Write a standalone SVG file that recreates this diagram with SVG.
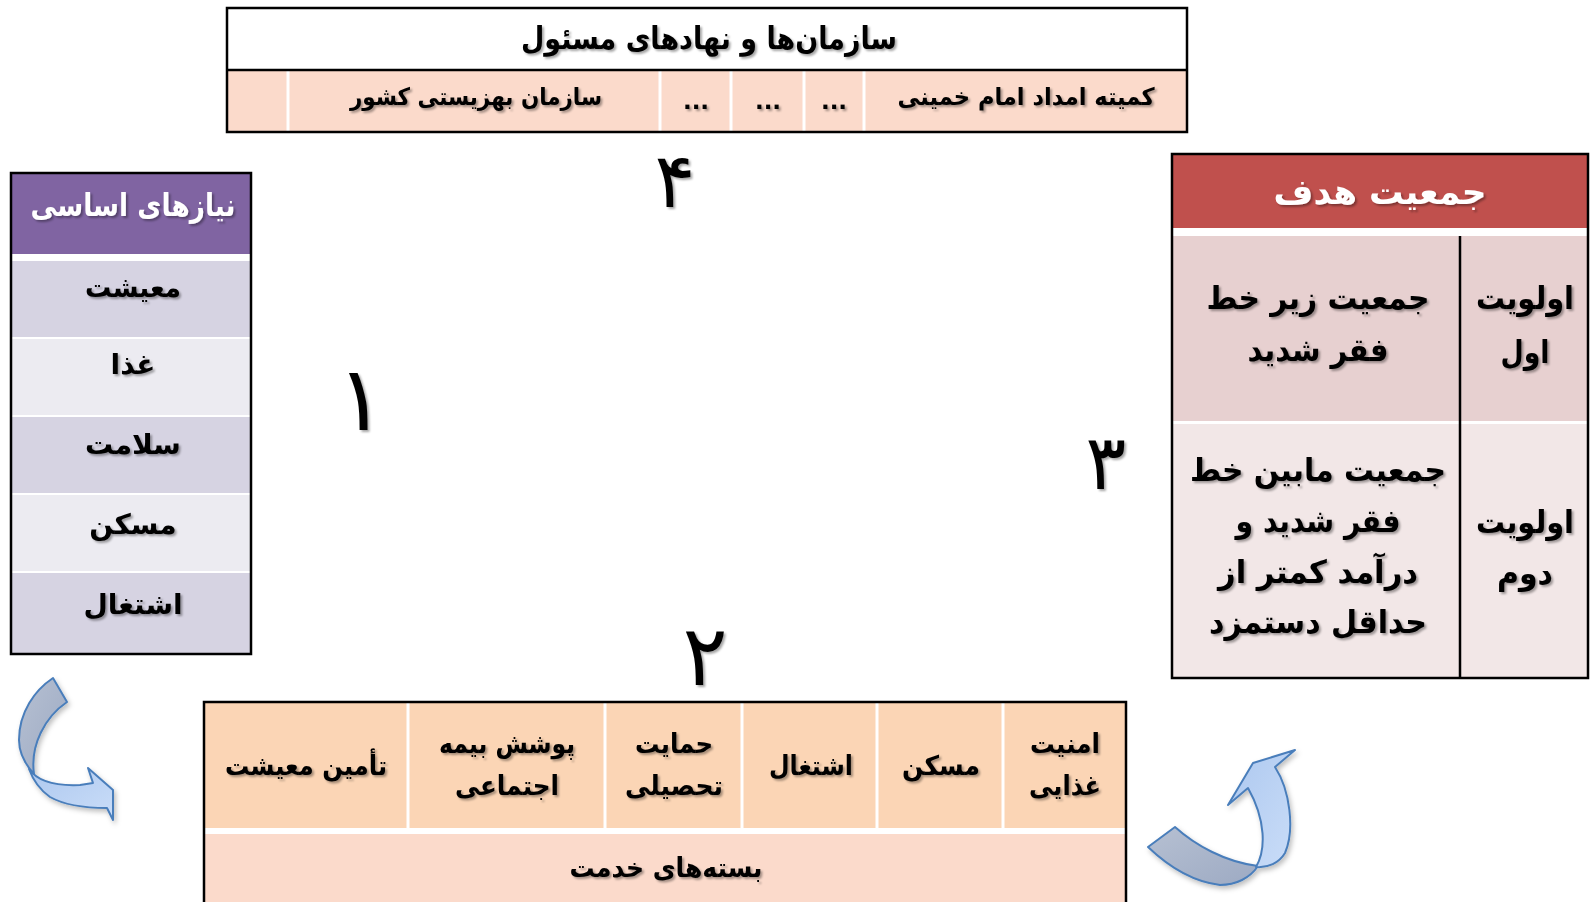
<svg xmlns="http://www.w3.org/2000/svg" width="1591" height="902" viewBox="0 0 1591 902">
<style>
  text { font-family: "DejaVu Sans", "Noto Sans", sans-serif; text-anchor: middle; dominant-baseline: central; }
  .b { font-weight: bold; }
  .t { fill: #000; filter: url(#sh); }
  .w { fill: #fff; filter: url(#sh); }
  .frame { fill: none; stroke: #000; stroke-width: 2.5; }
  .sep { stroke: #fff; stroke-width: 3; }
  .num { fill: #000; filter: url(#sh); }
  .arr { stroke: #4A7EBB; stroke-width: 2; stroke-linejoin: round; }
</style>
<defs>
  <filter id="sh" x="-20%" y="-30%" width="140%" height="160%">
    <feDropShadow dx="2" dy="2" stdDeviation="1.2" flood-color="#000" flood-opacity="0.35"/>
  </filter>
  <filter id="ash" x="-20%" y="-20%" width="140%" height="140%">
    <feDropShadow dx="2" dy="3" stdDeviation="2.5" flood-color="#000" flood-opacity="0.25"/>
  </filter>
  <linearGradient id="grey" x1="0" y1="0" x2="1" y2="1">
    <stop offset="0" stop-color="#B6C0D2"/>
    <stop offset="1" stop-color="#9DAAC3"/>
  </linearGradient>
  <linearGradient id="blue" x1="0" y1="0" x2="1" y2="1">
    <stop offset="0" stop-color="#ADC8EF"/>
    <stop offset="1" stop-color="#CADDF8"/>
  </linearGradient>
</defs>
<rect width="1591" height="902" fill="#fff"/>

<!-- Top table -->
<g id="orgs">
  <rect x="227" y="8" width="960" height="62" fill="#fff"/>
  <rect x="227" y="70" width="960" height="62" fill="#FBDACB"/>
  <line class="sep" x1="288" y1="70" x2="288" y2="132"/>
  <line class="sep" x1="660" y1="70" x2="660" y2="132"/>
  <line class="sep" x1="731" y1="70" x2="731" y2="132"/>
  <line class="sep" x1="804" y1="70" x2="804" y2="132"/>
  <line class="sep" x1="864" y1="70" x2="864" y2="132"/>
  <line x1="227" y1="70" x2="1187" y2="70" stroke="#000" stroke-width="2.5"/>
  <rect class="frame" x="227" y="8" width="960" height="124"/>
  <text class="b t" x="709" y="38" font-size="31" textLength="376" lengthAdjust="spacingAndGlyphs">سازمان‌ها و نهادهای مسئول</text>
  <text class="b t" x="1026" y="97" font-size="24" textLength="257" lengthAdjust="spacingAndGlyphs">کمیته امداد امام خمینی</text>
  <text class="b t" x="834" y="101" font-size="23">...</text>
  <text class="b t" x="768" y="101" font-size="23">...</text>
  <text class="b t" x="696" y="101" font-size="23">...</text>
  <text class="b t" x="476" y="97" font-size="24" textLength="252" lengthAdjust="spacingAndGlyphs">سازمان بهزیستی کشور</text>
</g>

<!-- Left table: basic needs -->
<g id="needs">
  <rect x="11" y="173" width="240" height="81" fill="#8064A2"/>
  <rect x="11" y="254" width="240" height="7" fill="#fff"/>
  <rect x="11" y="261" width="240" height="76" fill="#D6D3E2"/>
  <rect x="11" y="339" width="240" height="76" fill="#ECEBF1"/>
  <rect x="11" y="417" width="240" height="76" fill="#D6D3E2"/>
  <rect x="11" y="495" width="240" height="76" fill="#ECEBF1"/>
  <rect x="11" y="573" width="240" height="81" fill="#D6D3E2"/>
  <rect class="frame" x="11" y="173" width="240" height="481"/>
  <text class="b w" x="133" y="205" font-size="31" textLength="205" lengthAdjust="spacingAndGlyphs">نیازهای اساسی</text>
  <text class="b t" x="133" y="287" font-size="28" textLength="96" lengthAdjust="spacingAndGlyphs">معیشت</text>
  <text class="b t" x="133" y="364" font-size="28">غذا</text>
  <text class="b t" x="133" y="444" font-size="28">سلامت</text>
  <text class="b t" x="133" y="524" font-size="28">مسکن</text>
  <text class="b t" x="133" y="604" font-size="28">اشتغال</text>
</g>

<!-- Right table: target population -->
<g id="target">
  <rect x="1172" y="154" width="416" height="74" fill="#C0504D"/>
  <rect x="1172" y="228" width="416" height="8" fill="#fff"/>
  <rect x="1172" y="236" width="416" height="185" fill="#E7D0D0"/>
  <rect x="1172" y="424" width="416" height="254" fill="#F2E7E7"/>
  <line x1="1460" y1="236" x2="1460" y2="678" stroke="#000" stroke-width="2.5"/>
  <rect class="frame" x="1172" y="154" width="416" height="524"/>
  <text class="b w" x="1380" y="192" font-size="35" textLength="213" lengthAdjust="spacingAndGlyphs">جمعیت هدف</text>
  <text class="b t" x="1525" y="298" font-size="32" textLength="98" lengthAdjust="spacingAndGlyphs">اولویت</text>
  <text class="b t" x="1525" y="352" font-size="32" textLength="49" lengthAdjust="spacingAndGlyphs">اول</text>
  <text class="b t" x="1318" y="298" font-size="32" textLength="223" lengthAdjust="spacingAndGlyphs">جمعیت زیر خط</text>
  <text class="b t" x="1318" y="350" font-size="32" textLength="141" lengthAdjust="spacingAndGlyphs">فقر شدید</text>
  <text class="b t" x="1525" y="522" font-size="32" textLength="98" lengthAdjust="spacingAndGlyphs">اولویت</text>
  <text class="b t" x="1525" y="573" font-size="32" textLength="56" lengthAdjust="spacingAndGlyphs">دوم</text>
  <text class="b t" x="1318" y="470" font-size="32" textLength="256" lengthAdjust="spacingAndGlyphs">جمعیت مابین خط</text>
  <text class="b t" x="1318" y="521" font-size="32" textLength="165" lengthAdjust="spacingAndGlyphs">فقر شدید و</text>
  <text class="b t" x="1318" y="572" font-size="32" textLength="200" lengthAdjust="spacingAndGlyphs">درآمد کمتر از</text>
  <text class="b t" x="1318" y="622" font-size="32" textLength="218" lengthAdjust="spacingAndGlyphs">حداقل دستمزد</text>
</g>

<!-- Bottom table: service packages -->
<g id="services">
  <rect x="204" y="702" width="922" height="126" fill="#FBD5B5"/>
  <rect x="204" y="828" width="922" height="6" fill="#fff"/>
  <rect x="204" y="834" width="922" height="70" fill="#FBDACB"/>
  <line class="sep" x1="408" y1="702" x2="408" y2="828"/>
  <line class="sep" x1="605" y1="702" x2="605" y2="828"/>
  <line class="sep" x1="742" y1="702" x2="742" y2="828"/>
  <line class="sep" x1="877" y1="702" x2="877" y2="828"/>
  <line class="sep" x1="1003" y1="702" x2="1003" y2="828"/>
  <path class="frame" d="M204,904 V702 H1126 V904"/>
  <text class="b t" x="1065" y="743" font-size="27" textLength="70" lengthAdjust="spacingAndGlyphs">امنیت</text>
  <text class="b t" x="1065" y="785" font-size="27" textLength="72" lengthAdjust="spacingAndGlyphs">غذایی</text>
  <text class="b t" x="941" y="765" font-size="27" textLength="78" lengthAdjust="spacingAndGlyphs">مسکن</text>
  <text class="b t" x="811" y="765" font-size="27" textLength="84" lengthAdjust="spacingAndGlyphs">اشتغال</text>
  <text class="b t" x="674" y="743" font-size="27" textLength="78" lengthAdjust="spacingAndGlyphs">حمایت</text>
  <text class="b t" x="674" y="785" font-size="27" textLength="98" lengthAdjust="spacingAndGlyphs">تحصیلی</text>
  <text class="b t" x="507" y="743" font-size="27" textLength="136" lengthAdjust="spacingAndGlyphs">پوشش بیمه</text>
  <text class="b t" x="507" y="785" font-size="27" textLength="104" lengthAdjust="spacingAndGlyphs">اجتماعی</text>
  <text class="b t" x="306" y="765" font-size="27" textLength="162" lengthAdjust="spacingAndGlyphs">تأمین معیشت</text>
  <text class="b t" x="666" y="867" font-size="27" textLength="193" lengthAdjust="spacingAndGlyphs">بسته‌های خدمت</text>
</g>

<!-- Step numbers -->
<g id="numbers">
  <text class="num" x="675" y="180" font-size="76">۴</text>
  <text class="num" x="361" y="398" font-size="90">۱</text>
  <text class="num" x="1106" y="462" font-size="76">۳</text>
  <text class="num" x="705" y="656" font-size="84">۲</text>
</g>

<!-- Connectors: curved arrows -->
<g id="connectors" filter="url(#ash)">
  <g id="arrow-left">
    <path class="arr" fill="url(#blue)" d="M29,769 C38,782 58,786 80,785 L93,783 L88,768 L113,790 L113,820 L107,808 C90,808 66,806 50,797 C40,790 33,780 29,769 Z"/>
    <path class="arr" fill="url(#grey)" d="M53,678 L67,702 C45,717 30,745 34,774 C24,763 19,752 19,740 C19,712 35,690 53,678 Z"/>
  </g>
  <g id="arrow-right">
    <path class="arr" fill="url(#grey)" d="M1148,847 L1175,827 C1195,845 1225,862 1258,866 C1250,878 1236,885 1220,885 C1195,882 1170,868 1148,847 Z"/>
    <path class="arr" fill="url(#blue)" d="M1256,867 C1266,850 1266,820 1248,788 L1228,805 L1253,763 L1295,750 L1275,767 C1290,790 1295,830 1285,853 C1279,863 1268,868 1256,867 Z"/>
  </g>
</g>
</svg>
